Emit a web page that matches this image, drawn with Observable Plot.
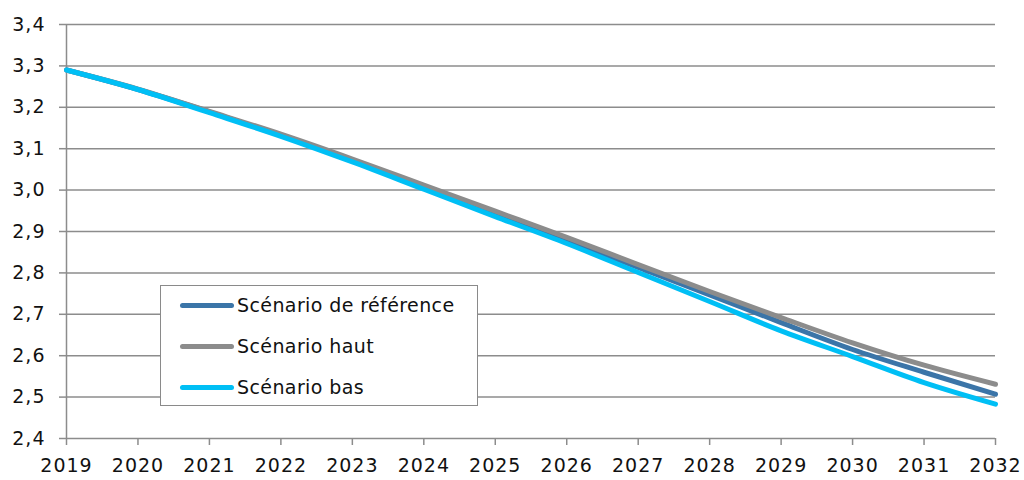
<!DOCTYPE html>
<html>
<head>
<meta charset="utf-8">
<script src="https://cdn.jsdelivr.net/npm/d3@7"></script>
<script src="https://cdn.jsdelivr.net/npm/@observablehq/plot@0.6"></script>
<style>
  body { margin: 0; background: #fff; }
  #wrap { position: relative; width: 1024px; height: 480px; font-family: "DejaVu Sans", sans-serif; }
  #wrap svg text { letter-spacing: 1px; }
  #legend { position: absolute; left: 160px; top: 285px; width: 318px; height: 121px; border: 1.5px solid #8a8a8a; background: #fff; box-sizing: border-box; }
  .item { position: absolute; left: 19px; display: flex; align-items: center; font-size: 19px; letter-spacing: 0.4px; color: #111; }
  .swatch { width: 54px; height: 5px; border-radius: 3px; margin-right: 3px; }
</style>
</head>
<body>
<div id="wrap"></div>
<script>
const years = [2019, 2020, 2021, 2022, 2023, 2024, 2025, 2026, 2027, 2028, 2029, 2030, 2031, 2032];
const reference = [3.29, 3.243, 3.189, 3.132, 3.072, 3.007, 2.944, 2.879, 2.813, 2.747, 2.680, 2.615, 2.560, 2.507];
const haut      = [3.29, 3.244, 3.190, 3.135, 3.075, 3.012, 2.949, 2.886, 2.820, 2.755, 2.692, 2.631, 2.577, 2.531];
const bas       = [3.29, 3.243, 3.187, 3.130, 3.068, 3.002, 2.936, 2.871, 2.801, 2.731, 2.660, 2.598, 2.535, 2.483];
const seriesNames = ["Scénario de référence", "Scénario haut", "Scénario bas"];
const seriesColors = ["#3b75a8", "#8c8c8c", "#00bff5"];
const yTicks = [2.4, 2.5, 2.6, 2.7, 2.8, 2.9, 3.0, 3.1, 3.2, 3.3, 3.4];

const seriesValues = [reference, haut, bas];
const rows = [];
seriesNames.forEach((name, i) => years.forEach((yr, j) => rows.push({series: name, year: yr, value: seriesValues[i][j]})));

const fmt = d => d.toFixed(1).replace(".", ",");

const chart = Plot.plot({
  width: 1024,
  height: 480,
  marginLeft: 66,
  marginRight: 29,
  marginTop: 24,
  marginBottom: 42,
  style: {fontFamily: "DejaVu Sans, sans-serif", fontSize: "19px", color: "#111", background: "#fff"},
  x: {domain: [2019, 2032], label: null},
  y: {domain: [2.4, 3.4], label: null},
  color: {domain: seriesNames, range: seriesColors},
  marks: [
    Plot.ruleY(yTicks, {stroke: "#8c8c8c", strokeWidth: 1.5}),
    Plot.ruleX([2019], {stroke: "#8c8c8c", strokeWidth: 1.5}),
    Plot.axisY(yTicks, {tickFormat: fmt, tickSize: 7, tickPadding: 14, stroke: "#8c8c8c", strokeWidth: 1.5, fontSize: 19, fill: "#111", label: null}),
    Plot.axisX(years, {tickFormat: d => String(d), tickSize: 7, tickPadding: 13, stroke: "#8c8c8c", strokeWidth: 1.5, fontSize: 19, fill: "#111", label: null}),
    Plot.line(rows, {x: "year", y: "value", z: "series", stroke: "series", strokeWidth: 5, curve: "monotone-x"})
  ]
});

const wrap = document.getElementById("wrap");
wrap.appendChild(chart);

const legend = document.createElement("div");
legend.id = "legend";
const tops = [8, 49, 90];
seriesNames.forEach((name, i) => {
  const it = document.createElement("div");
  it.className = "item";
  it.style.top = tops[i] + "px";
  const sw = document.createElement("div");
  sw.className = "swatch";
  sw.style.background = seriesColors[i];
  const tx = document.createElement("span");
  tx.textContent = name;
  it.appendChild(sw);
  it.appendChild(tx);
  legend.appendChild(it);
});
wrap.appendChild(legend);
</script>
</body>
</html>
